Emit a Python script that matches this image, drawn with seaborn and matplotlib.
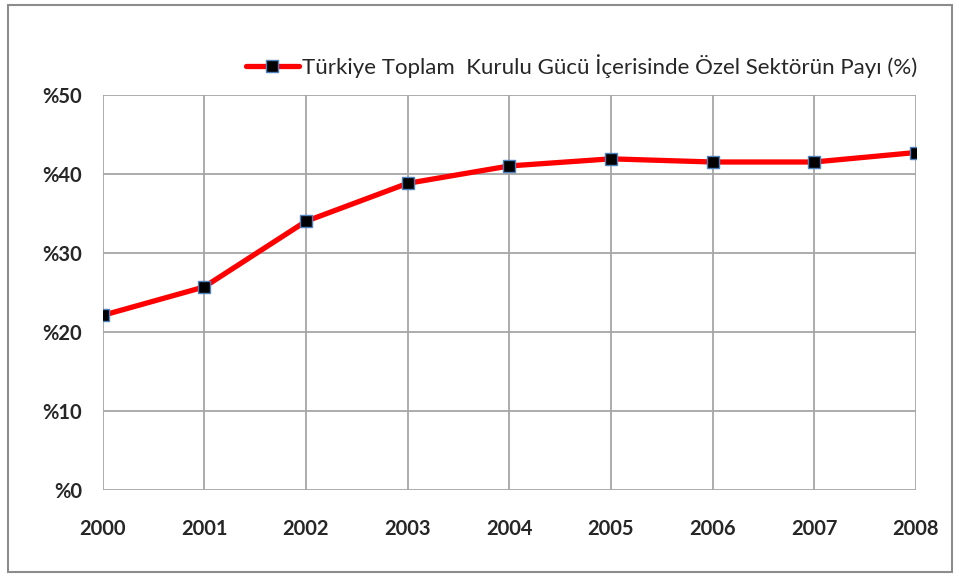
# %% kütüphaneler
import pandas as pd
import matplotlib.pyplot as plt
import seaborn as sns
from matplotlib.patches import Rectangle

sns.set_style("white")
plt.rcParams['font.family'] = ['Lato', 'DejaVu Sans']

# %% veri
yillar = ['2000', '2001', '2002', '2003', '2004', '2005', '2006', '2007', '2008']
ozel_pay = [22.1, 25.7, 34.0, 38.8, 41.0, 41.9, 41.5, 41.5, 42.7]
y_etiketler = ['%0', '%10', '%20', '%30', '%40', '%50']
seri_adi = 'Türkiye Toplam  Kurulu Gücü İçerisinde Özel Sektörün Payı (%)'

df = pd.DataFrame({'yil': range(len(yillar)), 'pay': ozel_pay})

# %% grafik
fig = plt.figure(figsize=(9.59, 5.78), dpi=100)
ax = fig.add_axes([0.107, 0.152, 0.848, 0.684])

sns.lineplot(data=df, x='yil', y='pay', ax=ax, color='#ff0000', linewidth=3.8,
             marker='s', markersize=8.3, markerfacecolor='black',
             markeredgecolor='#4f81bd', markeredgewidth=1.0, label=seri_adi)

ax.set_xlim(0, len(yillar) - 1)
ax.set_ylim(0, 50)
ax.set_xticks(range(len(yillar)))
ax.set_xticklabels(yillar)
ax.set_yticks([0, 10, 20, 30, 40, 50])
ax.set_yticklabels(y_etiketler)
ax.set_xlabel('')
ax.set_ylabel('')

ax.grid(True, color='#a6a6a6', linewidth=1.3)
for s in ax.spines.values():
    s.set_visible(False)
ax.tick_params(axis='both', which='both', length=7, width=1.3, color='#a6a6a6',
               labelsize=14.5, pad=14)
ax.tick_params(axis='y', pad=8)
for lbl in ax.get_xticklabels() + ax.get_yticklabels():
    lbl.set_fontweight('bold')

leg = ax.legend(loc='lower right', bbox_to_anchor=(1.013, 1.02), frameon=False,
                fontsize=16, handlelength=2.4, handletextpad=0.15, borderaxespad=0)

# dış çerçeve
fig.patches.append(Rectangle((0.008, 0.01), 0.985, 0.982, transform=fig.transFigure,
                             fill=False, edgecolor='#8c8c8c', linewidth=1.5))

plt.savefig('out.png', dpi=100)
